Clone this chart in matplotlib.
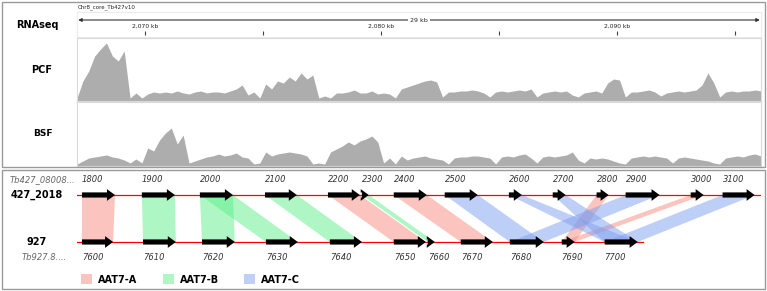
import numpy as np
import matplotlib.pyplot as plt
from matplotlib.patches import Rectangle, Polygon, Patch

start_kb = 2067.1
bin_kb = 0.25
pcf_cov = [3, 20, 30, 45, 52, 58, 45, 40, 50, 3, 8, 3, 7, 9, 8, 9, 8, 10, 8, 7,
           9, 10, 8, 9, 9, 8, 10, 12, 16, 6, 9, 3, 17, 12, 20, 18, 24, 20, 28, 22,
           26, 3, 5, 3, 8, 8, 9, 11, 8, 8, 10, 7, 8, 7, 3, 12, 14, 16, 18, 20,
           21, 19, 4, 9, 9, 10, 10, 11, 10, 8, 4, 9, 10, 9, 10, 11, 10, 12, 4, 8,
           9, 10, 9, 10, 6, 4, 8, 9, 10, 8, 18, 22, 21, 4, 9, 9, 10, 11, 9, 5,
           8, 9, 10, 9, 10, 11, 16, 28, 18, 4, 9, 10, 9, 10, 10, 11, 10]
bsf_cov = [2, 5, 8, 9, 10, 11, 9, 8, 6, 3, 7, 3, 18, 15, 26, 33, 38, 22, 31, 3,
           5, 7, 9, 10, 12, 10, 11, 13, 9, 8, 2, 3, 14, 10, 12, 13, 14, 13, 12, 10,
           2, 3, 2, 14, 17, 20, 24, 21, 25, 27, 30, 24, 3, 8, 2, 10, 6, 8, 9, 10,
           8, 7, 6, 2, 8, 9, 9, 10, 10, 9, 8, 2, 9, 10, 9, 11, 12, 8, 3, 9,
           10, 9, 10, 11, 14, 6, 3, 8, 7, 8, 7, 5, 3, 2, 8, 9, 10, 9, 10, 9,
           8, 3, 8, 9, 8, 7, 6, 5, 3, 2, 8, 9, 10, 9, 11, 12, 10]
end_kb = 2096.1

ruler_ticks = [2070, 2075, 2080, 2085, 2090, 2095]
ruler_labels = {2070: '2,070 kb', 2080: '2,080 kb', 2090: '2,090 kb'}

# synteny: gene start / end (kb) on each assembly
top_names = ['1800', '1900', '2000', '2100', '2200', '2300', '2400', '2500',
             '2600', '2700', '2800', '2900', '3000', '3100']
top_start = [2067.31, 2069.85, 2072.31, 2075.07, 2077.74, 2079.18, 2080.53,
             2082.69, 2085.41, 2087.27, 2089.13, 2090.36, 2093.12, 2094.47]
top_end = [2068.71, 2071.25, 2073.71, 2076.42, 2079.09, 2079.47, 2081.93,
           2084.09, 2085.96, 2087.82, 2089.64, 2091.80, 2093.67, 2095.83]
bot_names = ['7600', '7610', '7620', '7630', '7640', '7650', '7660', '7670',
             '7680', '7690', '7700']
bot_start = [2067.31, 2069.90, 2072.40, 2075.11, 2077.82, 2080.53, 2081.97,
             2083.37, 2085.45, 2087.65, 2089.47]
bot_end = [2068.63, 2071.29, 2073.79, 2076.46, 2079.18, 2081.89, 2082.27,
           2084.73, 2086.89, 2088.20, 2090.87]
bot_line_end = 2091.08

# links: (top gene, bottom gene, group)
links = [('1800', '7600', 'AAT7-A'), ('2200', '7650', 'AAT7-A'),
         ('2400', '7670', 'AAT7-A'), ('2800', '7690', 'AAT7-A'),
         ('3000', '7690', 'AAT7-A'),
         ('1900', '7610', 'AAT7-B'), ('2000', '7620', 'AAT7-B'),
         ('2000', '7630', 'AAT7-B'), ('2100', '7640', 'AAT7-B'),
         ('2300', '7660', 'AAT7-B'),
         ('2500', '7680', 'AAT7-C'), ('2600', '7700', 'AAT7-C'),
         ('2700', '7700', 'AAT7-C'), ('2900', '7680', 'AAT7-C'),
         ('3100', '7700', 'AAT7-C')]
group_colors = {'AAT7-A': '#f88a7e', 'AAT7-B': '#5ef08a', 'AAT7-C': '#7fa0f0'}
legend_colors = {'AAT7-A': '#fbc4be', 'AAT7-B': '#aef7c4', 'AAT7-C': '#bfcff7'}

W, H = 767, 291
fig = plt.figure(figsize=(W / 100, H / 100), dpi=100)


def box(x0, y0, x1, y1):
    # pixel box (top-left origin) -> figure fraction rect
    return [x0 / W, 1 - y1 / H, (x1 - x0) / W, (y1 - y0) / H]


# panel frames
for (x0, y0, x1, y1) in [(2, 2, 765, 167), (2, 170, 765, 289)]:
    fig.add_artist(Rectangle((x0 / W, 1 - y1 / H), (x1 - x0) / W, (y1 - y0) / H,
                             transform=fig.transFigure, fill=False,
                             ec='#9a9a9a', lw=1.0))

light = '#d9d9d9'

# ruler
ax_r = fig.add_axes(box(77, 12, 761, 37))
ax_r.set_xlim(start_kb, end_kb)
ax_r.set_ylim(0, 1)
ax_r.set_xticks([])
ax_r.set_yticks([])
for s in ax_r.spines.values():
    s.set_color('#ececec')
    s.set_linewidth(0.8)
ax_r.vlines(ruler_ticks, 0.08, 0.24, color='#444444', lw=0.8)
for k, lab in ruler_labels.items():
    ax_r.text(k, 0.42, lab, ha='center', va='center', fontsize=4.3,
              color='#222222')
mid = (start_kb + end_kb) / 2
ax_r.annotate('', xy=(start_kb + 0.05, 0.68), xytext=(mid, 0.68),
              arrowprops=dict(arrowstyle='-|>', color='#333333', lw=0.8,
                              mutation_scale=5, shrinkA=0, shrinkB=0))
ax_r.annotate('', xy=(end_kb - 0.05, 0.68), xytext=(mid, 0.68),
              arrowprops=dict(arrowstyle='-|>', color='#333333', lw=0.8,
                              mutation_scale=5, shrinkA=0, shrinkB=0))
ax_r.text(mid, 0.68, '29 kb', ha='center', va='center', fontsize=4.5,
          color='#222222', bbox=dict(fc='white', ec='none', pad=1.2))
ax_r.text(start_kb + 0.05, 1.2, 'Chr8_core_Tb427v10', ha='left', va='center',
          fontsize=4, color='#222222', clip_on=False)

# coverage tracks
bins = start_kb + bin_kb * np.arange(len(pcf_cov))
for rect, cov, top in [((77, 38, 761, 101), pcf_cov, 63),
                       ((77, 102, 761, 166), bsf_cov, 64)]:
    ax = fig.add_axes(box(*rect))
    ax.fill_between(bins, cov, 0, color='#adadad', lw=0)
    ax.set_xlim(start_kb, end_kb)
    ax.set_ylim(0, top)
    ax.set_xticks([])
    ax.set_yticks([])
    for s in ax.spines.values():
        s.set_color(light)
        s.set_linewidth(0.8)

fig.text(37 / W, 1 - 25 / H, 'RNAseq', ha='center', va='center',
         fontsize=7, fontweight='bold')
fig.text(42 / W, 1 - 70 / H, 'PCF', ha='center', va='center',
         fontsize=7, fontweight='bold')
fig.text(43 / W, 1 - 134 / H, 'BSF', ha='center', va='center',
         fontsize=6.5, fontweight='bold')

# synteny panel
ax_s = fig.add_axes(box(77, 172, 761, 288))
ax_s.set_xlim(start_kb, end_kb)
ax_s.set_ylim(1.489 - 2.468, 1.489)
ax_s.axis('off')

top_pos = dict(zip(top_names, zip(top_start, top_end)))
bot_pos = dict(zip(bot_names, zip(bot_start, bot_end)))

for t, b, g in links:
    x0, x1 = top_pos[t]
    u0, u1 = bot_pos[b]
    ax_s.add_patch(Polygon([(x0, 1), (x1, 1), (u1, 0), (u0, 0)],
                           closed=True, fc=group_colors[g], ec='none',
                           alpha=0.5, zorder=1))

ax_s.plot([start_kb, end_kb - 0.05], [1, 1], color='red', lw=0.9, zorder=2)
ax_s.plot([start_kb, bot_line_end], [0, 0], color='red', lw=0.9, zorder=2)

for starts, ends, names, y, dy in [(top_start, top_end, top_names, 1, 0.32),
                                   (bot_start, bot_end, bot_names, 0, -0.32)]:
    for x0, x1, n in zip(starts, ends, names):
        ax_s.arrow(x0, y, x1 - x0, 0, width=0.11, head_width=0.25,
                   head_length=0.34, length_includes_head=True,
                   fc='black', ec='black', lw=0, zorder=3)
        ax_s.text(x0, y + dy, n, ha='left', va='center', fontsize=6,
                  style='italic', color='#333333')

fig.text(75 / W, 1 - 180 / H, 'Tb427_08008...', ha='right', va='center',
         fontsize=6, style='italic', color='#666666')
fig.text(37 / W, 1 - 195 / H, '427_2018', ha='center', va='center',
         fontsize=7, fontweight='bold')
fig.text(37 / W, 1 - 242 / H, '927', ha='center', va='center',
         fontsize=7, fontweight='bold')
fig.text(67 / W, 1 - 257 / H, 'Tb927.8....', ha='right', va='center',
         fontsize=6, style='italic', color='#666666')

handles = [Patch(fc=legend_colors[g], ec='none', label=g)
           for g in ['AAT7-A', 'AAT7-B', 'AAT7-C']]
leg = ax_s.legend(handles=handles, loc='lower left', ncol=3, frameon=False,
                  bbox_to_anchor=(0.006, 0.03), borderaxespad=0, borderpad=0,
                  handlelength=1.15, handleheight=1.15, handletextpad=0.6,
                  columnspacing=2.6, prop=dict(size=7, weight='bold'))

fig.savefig('out.png', dpi=100)
